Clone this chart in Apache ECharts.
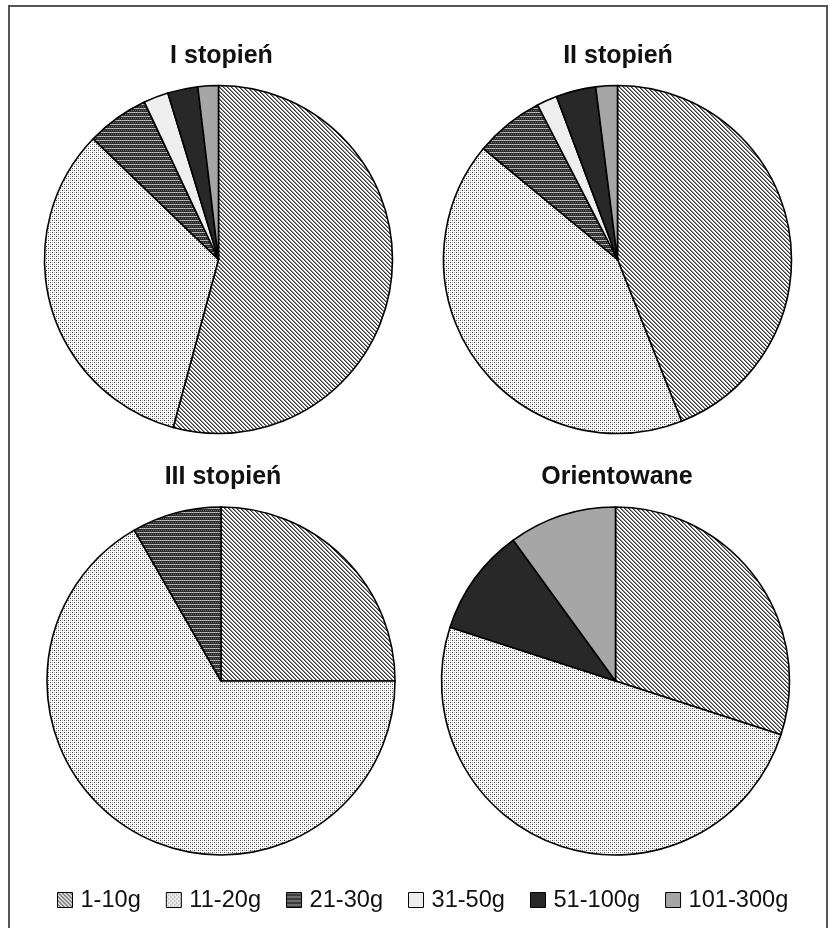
<!DOCTYPE html>
<html>
<head>
<meta charset="utf-8">
<script src="https://cdn.jsdelivr.net/npm/echarts@6/dist/echarts.min.js"></script>
<style>
  html, body { margin: 0; padding: 0; background: #fff; }
  #chart { width: 829px; height: 928px; }
</style>
</head>
<body>
<div id="chart"></div>
<script>
// Weight classes (legend order)
const categories = ['1-10g', '11-20g', '21-30g', '31-50g', '51-100g', '101-300g'];

// Share of each weight class (%) per group
const stopienI    = [54.2, 33.0, 5.8, 2.3, 2.8, 1.9];
const stopienII   = [44.0, 42.0, 6.4, 1.9, 3.7, 2.0];
const stopienIII  = [25.0, 66.7, 8.3, 0, 0, 0];
const orientowane = [30.0, 50.0, 0, 0, 10.0, 10.0];

// Panel titles
const titles = ['I stopień', 'II stopień', 'III stopień', 'Orientowane'];

// Small repeating bitmap tiles used as hatch fills
function makeTile(size, painter) {
  const c = document.createElement('canvas');
  c.width = size; c.height = size;
  const ctx = c.getContext('2d');
  painter(ctx, size);
  return { image: c, repeat: 'repeat' };
}
function px(ctx, x, y, col) { ctx.fillStyle = col; ctx.fillRect(x, y, 1, 1); }

const fills = [
  // 1-10g: diagonal dotted stripes
  makeTile(4, (ctx, n) => {
    ctx.fillStyle = '#ffffff'; ctx.fillRect(0, 0, n, n);
    for (let y = 0; y < n; y++) for (let x = 0; x < n; x++) {
      const d = ((x - y) % 4 + 4) % 4;
      if (d === 0) px(ctx, x, y, '#3a3a3a');
      else if (d === 1 && (x + y) % 2 === 1) px(ctx, x, y, '#8a8a8a');
    }
  }),
  // 11-20g: sparse dot grid
  makeTile(4, (ctx, n) => {
    ctx.fillStyle = '#ffffff'; ctx.fillRect(0, 0, n, n);
    px(ctx, 0, 0, '#444444'); px(ctx, 2, 2, '#444444');
    px(ctx, 2, 0, '#b0b0b0'); px(ctx, 0, 2, '#b0b0b0');
  }),
  // 21-30g: dark field with light cross-hatch
  makeTile(4, (ctx, n) => {
    ctx.fillStyle = '#2c2c2c'; ctx.fillRect(0, 0, n, n);
    for (let x = 0; x < n; x++) px(ctx, x, 0, x % 2 ? '#9a9a9a' : '#c8c8c8');
    px(ctx, 1, 2, '#6a6a6a'); px(ctx, 3, 2, '#6a6a6a');
  }),
  '#eeeeee', // 31-50g
  '#282828', // 51-100g
  '#a6a6a6'  // 101-300g
];

const centers = [[218.5, 259.5], [617.5, 259.5], [221, 681], [615.5, 681]];
const groups = [stopienI, stopienII, stopienIII, orientowane];

function buildData(values) {
  const out = [];
  values.forEach((v, i) => {
    if (v > 0) out.push({ name: categories[i], value: v, itemStyle: { color: fills[i] } });
  });
  return out;
}

const series = groups.map((vals, k) => ({
  type: 'pie',
  center: centers[k],
  radius: 174,
  startAngle: 90,
  clockwise: true,
  label: { show: false },
  labelLine: { show: false },
  emphasis: { disabled: true },
  animation: false,
  itemStyle: { borderColor: '#000', borderWidth: 1.6 },
  data: buildData(vals)
}));

const titlePos = [[221.5, 56], [618, 56], [223, 477], [617, 477]];

const chart = echarts.init(document.getElementById('chart'), null, { renderer: 'canvas' });
chart.setOption({
  backgroundColor: '#ffffff',
  animation: false,
  graphic: [
    {
      type: 'rect', silent: true, z: 0,
      shape: { x: 9, y: 6, width: 818, height: 940 },
      style: { fill: 'none', stroke: '#555555', lineWidth: 2 }
    }
  ].concat(titles.map((t, i) => ({
    type: 'text', silent: true,
    x: titlePos[i][0], y: titlePos[i][1],
    style: {
      text: t, fill: '#111111',
      font: 'bold 25px "Liberation Sans", Arial, sans-serif',
      textAlign: 'center', textVerticalAlign: 'middle'
    }
  }))),
  legend: {
    data: categories,
    left: 52,
    top: 883,
    orient: 'horizontal',
    icon: 'rect',
    itemWidth: 15,
    itemHeight: 15,
    itemGap: 25,
    selectedMode: false,
    itemStyle: { borderColor: '#000', borderWidth: 1 },
    textStyle: {
      fontFamily: '"Liberation Sans", Arial, sans-serif',
      fontSize: 23.6,
      color: '#111111',
      padding: [0, 0, 0, 3]
    }
  },
  series: series
});
</script>
</body>
</html>
